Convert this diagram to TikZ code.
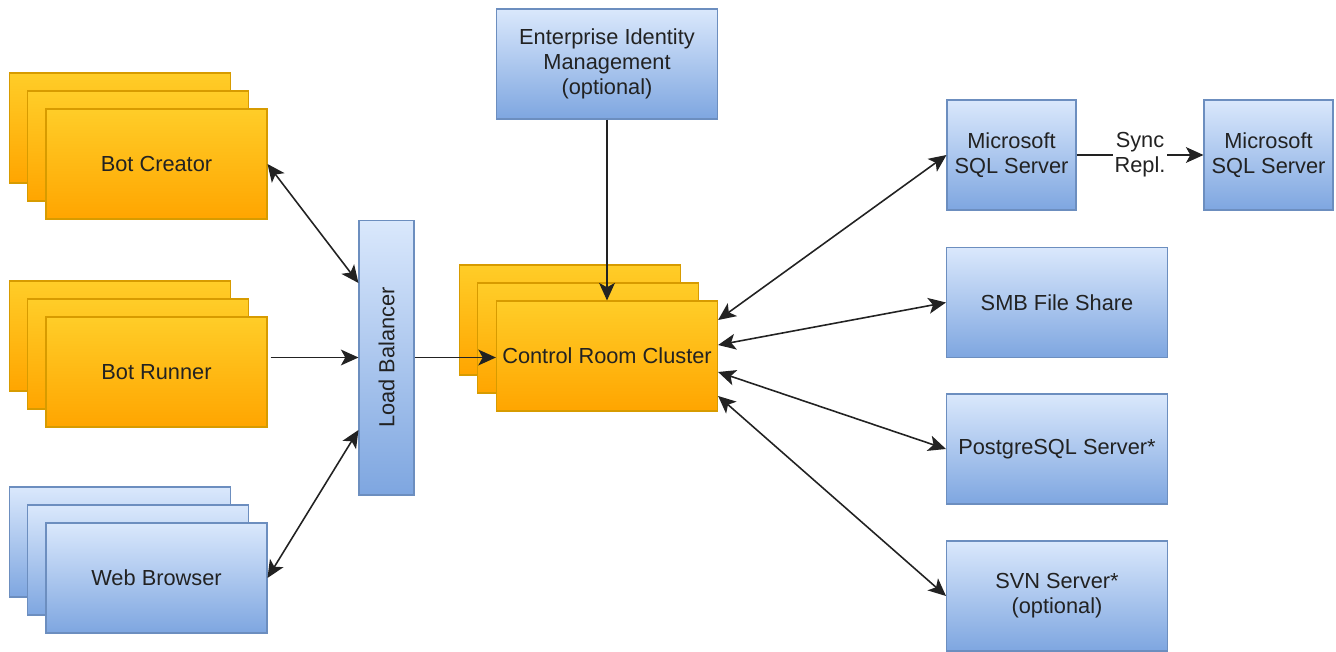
\documentclass[tikz,border=0pt]{standalone}
\usepackage{fontspec}
\setmainfont{Liberation Sans}
\usetikzlibrary{arrows.meta}

\definecolor{orangetop}{HTML}{FFCD28}
\definecolor{orangebot}{HTML}{FFA500}
\definecolor{orangeline}{HTML}{D79B00}
\definecolor{bluetop}{HTML}{DAE8FC}
\definecolor{bluebot}{HTML}{7EA6E0}
\definecolor{blueline}{HTML}{6C8EBF}
\definecolor{textgrey}{HTML}{222222}

\tikzset{
  box/.style={minimum width=4.42cm, minimum height=2.2cm, align=center,
    text=textgrey, font=\fontsize{12.4}{14.2}\selectfont, line width=0.6pt},
  orangebox/.style={box, draw=orangeline, top color=orangetop, bottom color=orangebot},
  bluebox/.style={box, draw=blueline, top color=bluetop, bottom color=bluebot},
  tip/.style={Stealth[length=10pt,width=9pt,inset=2.5pt]},
  link/.style={line width=0.9pt, draw=textgrey, -{Stealth[length=10pt,width=9pt,inset=2.5pt]}},
  twoway/.style={link, {Stealth[length=10pt,width=9pt,inset=2.5pt]}-{Stealth[length=10pt,width=9pt,inset=2.5pt]}}
}

\begin{document}
\begin{tikzpicture}[x=0.02cm, y=-0.02cm]

\useasboundingbox (0,0) rectangle (1336,652);

% clients
\node[orangebox] (bc3) at (120,128) {};
\node[orangebox] (bc2) at (138,146) {};
\node[orangebox] (bc) at (156.5,164) {Bot Creator};

\node[orangebox] (br3) at (120,336) {};
\node[orangebox] (br2) at (138,354) {};
\node[orangebox] (br) at (156.5,372) {Bot Runner};

\node[bluebox] (wb3) at (120,542) {};
\node[bluebox] (wb2) at (138,560) {};
\node[bluebox] (wb) at (156.5,578) {Web Browser};

\node[bluebox, minimum width=1.1cm, minimum height=5.5cm] (lb) at (386.5,357.5) {\rotatebox{90}{Load Balancer}};

% control room
\node[bluebox] (eim) at (607,64) {Enterprise Identity\\Management\\(optional)};

\node[orangebox] (crc3) at (570,320) {};
\node[orangebox] (crc2) at (588,338) {};
\node[orangebox] (crc) at (607,356) {Control Room Cluster};

% storage
\node[bluebox, minimum width=2.58cm] (sql) at (1011.5,155) {Microsoft\\SQL Server};
\node[bluebox, minimum width=2.58cm] (sqlb) at (1268.5,155) {Microsoft\\SQL Server};
\node[bluebox] (smb) at (1057,302.5) {SMB File Share};
\node[bluebox] (pg) at (1057,449) {PostgreSQL Server*};
\node[bluebox] (svn) at (1057,596) {SVN Server*\\(optional)};

% connectors
\draw[twoway] (bc.east) -- ([yshift=1.49cm]lb.west);
\draw[link] ([xshift=0.06cm]br.east |- lb.west) -- (lb.west);
\draw[twoway] (wb.east) -- ([yshift=-1.45cm]lb.west);
\draw[link] (lb.east) -- (lb.east -| crc.west);
\draw[link] (eim.south) -- (crc.north);

\draw[twoway] ([yshift=0.72cm]crc.east) -- (sql.west);
\draw[twoway] ([yshift=0.22cm]crc.east) -- (smb.west);
\draw[twoway] ([yshift=-0.32cm]crc.east) -- (pg.west);
\draw[twoway] ([yshift=-0.8cm]crc.east) -- (svn.west);

\draw[link] (sql.east) -- node[fill=white, inner sep=1pt, align=center, text=textgrey,
  font=\fontsize{12.4}{14.2}\selectfont] {Sync\\Repl.} (sqlb.west);

\end{tikzpicture}
\end{document}
